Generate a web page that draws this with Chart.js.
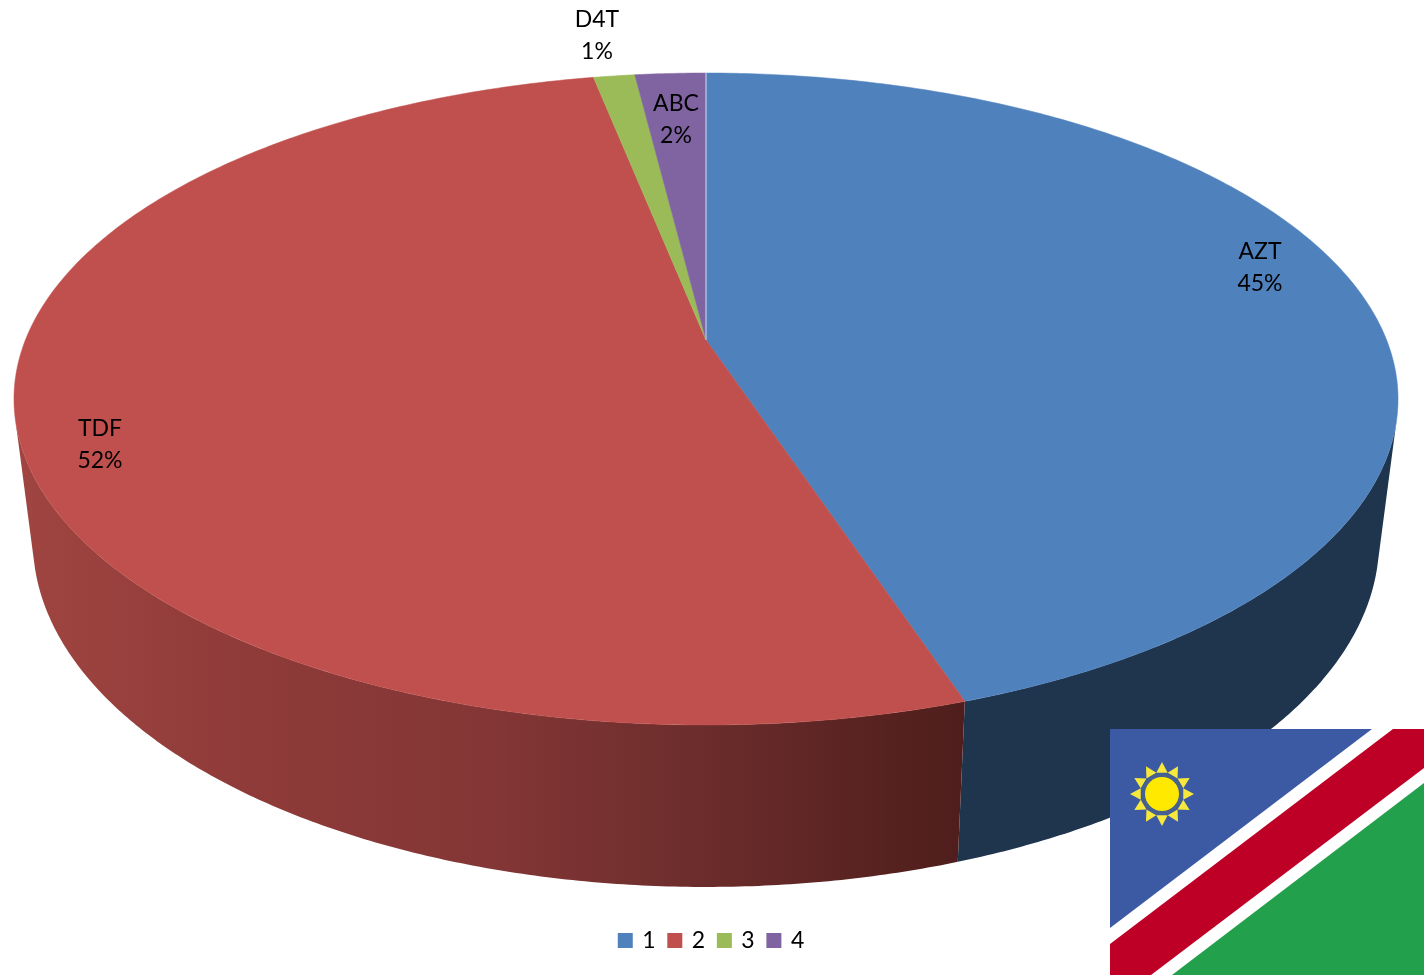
<!DOCTYPE html>
<html>
<head>
<meta charset="utf-8">
<title>Namibia pie</title>
<script src="https://cdn.jsdelivr.net/npm/chart.js@4"></script>
<style>
  html, body { margin: 0; padding: 0; background: #fff; }
  canvas { display: block; }
</style>
</head>
<body>
<canvas id="chart" width="1424" height="975"></canvas>
<script>
// data
const legendLabels = ['1', '2', '3', '4'];
const drugNames = ['AZT', 'TDF', 'D4T', 'ABC'];
const shares = [44.9, 51.98, 1.15, 1.97];
const topColors = ['#4F81BD', '#C0504D', '#9BBB59', '#8064A2'];
const wallColors = ['#1F344D', '#7A2E2C', '#5C7034', '#4C3C61'];

// where each label sits (center x, first line y)
const labelSpots = [[1260, 252], [100, 429], [597, 20], [676, 104]];

// perspective of the top face, 0,0 is the slice apex
const PIE_X = 706, PIE_Y = 340;
const RX = 680.6, RY = 315.3, TILT = -0.181;
// same projection for the lower rim of the wall
const BASE_X = 706, BASE_Y = 478.4, BASE_RX = 662, BASE_RY = 334.6;

function topPoint(a) {
  const u = Math.cos(a), v = Math.sin(a);
  const w = 1 + TILT * v;
  return [PIE_X + RX * u / w, PIE_Y + RY * v / w];
}
function wallPoint(a) {
  const u = Math.cos(a), v = Math.sin(a);
  const w = 1 + TILT * v;
  return [BASE_X + BASE_RX * u / w, BASE_Y + BASE_RY * v / w];
}

// top face of a slice: same arc element, just projected
Chart.ArcElement.prototype.draw = function (ctx) {
  const start = this.startAngle, end = this.endAngle;
  const steps = Math.max(4, Math.ceil((end - start) / 0.01));
  ctx.save();
  ctx.fillStyle = this.options.backgroundColor;
  ctx.strokeStyle = this.options.backgroundColor;
  ctx.lineWidth = 0.5;
  ctx.beginPath();
  ctx.moveTo(PIE_X, PIE_Y);
  for (let i = 0; i <= steps; i++) {
    const p = topPoint(start + (end - start) * i / steps);
    ctx.lineTo(p[0], p[1]);
  }
  ctx.closePath();
  ctx.fill();
  ctx.stroke();
  ctx.restore();
};

function redGradient(ctx) {
  const g = ctx.createLinearGradient(14, 0, 965, 0);
  g.addColorStop(0, '#A04541');
  g.addColorStop(0.24, '#8F3B39');
  g.addColorStop(0.51, '#823635');
  g.addColorStop(0.72, '#6C2D2C');
  g.addColorStop(0.93, '#55211F');
  g.addColorStop(1, '#4F1E1C');
  return g;
}

const wallPlugin = {
  id: 'wall',
  beforeDatasetsDraw(chart) {
    const ctx = chart.ctx;
    chart.getDatasetMeta(0).data.forEach((arc, idx) => {
      const steps = Math.ceil((arc.endAngle - arc.startAngle) / 0.008);
      ctx.save();
      ctx.fillStyle = idx === 1 ? redGradient(ctx) : wallColors[idx];
      ctx.beginPath();
      for (let i = 0; i < steps; i++) {
        const a0 = arc.startAngle + (arc.endAngle - arc.startAngle) * i / steps;
        const a1 = arc.startAngle + (arc.endAngle - arc.startAngle) * (i + 1) / steps;
        const q = [topPoint(a0), topPoint(a1), wallPoint(a1), wallPoint(a0)];
        // only the strips that face the viewer, all wound the same way
        let area = 0;
        q.forEach((p, k) => {
          const n = q[(k + 1) % 4];
          area += p[0] * n[1] - n[0] * p[1];
        });
        if (area >= 0) continue;
        ctx.moveTo(q[0][0], q[0][1]);
        ctx.lineTo(q[1][0], q[1][1]);
        ctx.lineTo(q[2][0], q[2][1]);
        ctx.lineTo(q[3][0], q[3][1]);
        ctx.closePath();
      }
      ctx.fill();
      ctx.restore();
    });
  }
};

function poly(ctx, color, pts) {
  ctx.fillStyle = color;
  ctx.beginPath();
  pts.forEach((p, i) => i ? ctx.lineTo(p[0], p[1]) : ctx.moveTo(p[0], p[1]));
  ctx.closePath();
  ctx.fill();
}

function drawFlag(ctx) {
  ctx.save();
  poly(ctx, '#22A04B', [[1110, 729], [1424, 729], [1424, 975], [1110, 975]]);
  poly(ctx, '#FFFFFF', [[1110, 729], [1424, 729], [1424, 783], [1172, 975], [1110, 975]]);
  poly(ctx, '#BE0027', [[1393, 729], [1424, 729], [1424, 768], [1151, 975], [1110, 975], [1110, 944]]);
  poly(ctx, '#3C59A3', [[1110, 729], [1372, 729], [1110, 928]]);
  // sun
  const sx = 1162, sy = 794;
  for (let i = 0; i < 12; i++) {
    const a = i * Math.PI / 6;
    const d = Math.PI / 12;
    poly(ctx, '#F6E93C', [
      [sx + 32 * Math.cos(a), sy + 32 * Math.sin(a)],
      [sx + 22 * Math.cos(a + d), sy + 22 * Math.sin(a + d)],
      [sx + 22 * Math.cos(a - d), sy + 22 * Math.sin(a - d)]
    ]);
  }
  ctx.fillStyle = '#46608F';
  ctx.beginPath();
  ctx.arc(sx, sy, 21, 0, Math.PI * 2);
  ctx.fill();
  ctx.fillStyle = '#FFE900';
  ctx.beginPath();
  ctx.arc(sx, sy, 17, 0, Math.PI * 2);
  ctx.fill();
  ctx.restore();
}

const labelPlugin = {
  id: 'sliceLabels',
  afterDatasetsDraw(chart) {
    const ctx = chart.ctx;
    const data = chart.data.datasets[0].data;
    ctx.save();
    // thin pale seam where the first slice starts
    const seam = topPoint(chart.getDatasetMeta(0).data[0].startAngle);
    ctx.strokeStyle = '#A9BFDD';
    ctx.lineWidth = 1.5;
    ctx.beginPath();
    ctx.moveTo(PIE_X, PIE_Y);
    ctx.lineTo(seam[0], seam[1]);
    ctx.stroke();

    ctx.fillStyle = '#000';
    ctx.font = '23px Lato';
    ctx.textAlign = 'center';
    ctx.textBaseline = 'middle';
    drugNames.forEach((name, i) => {
      const spot = labelSpots[i];
      ctx.fillText(name, spot[0], spot[1]);
      ctx.fillText(Math.round(data[i]) + '%', spot[0], spot[1] + 32);
    });
    ctx.restore();
  },
  afterDraw(chart) {
    drawFlag(chart.ctx);
  }
};

new Chart(document.getElementById('chart'), {
  type: 'pie',
  data: {
    labels: legendLabels,
    datasets: [{
      data: shares,
      backgroundColor: topColors,
      borderWidth: 0
    }]
  },
  options: {
    responsive: false,
    animation: false,
    layout: { padding: { bottom: 13 } },
    plugins: {
      tooltip: { enabled: false },
      legend: {
        position: 'bottom',
        labels: {
          usePointStyle: true,
          pointStyle: 'rect',
          boxWidth: 11,
          boxHeight: 15,
          padding: 13.7,
          color: '#000',
          font: { family: 'Lato', size: 23 }
        }
      }
    }
  },
  plugins: [wallPlugin, labelPlugin]
});
</script>
</body>
</html>
